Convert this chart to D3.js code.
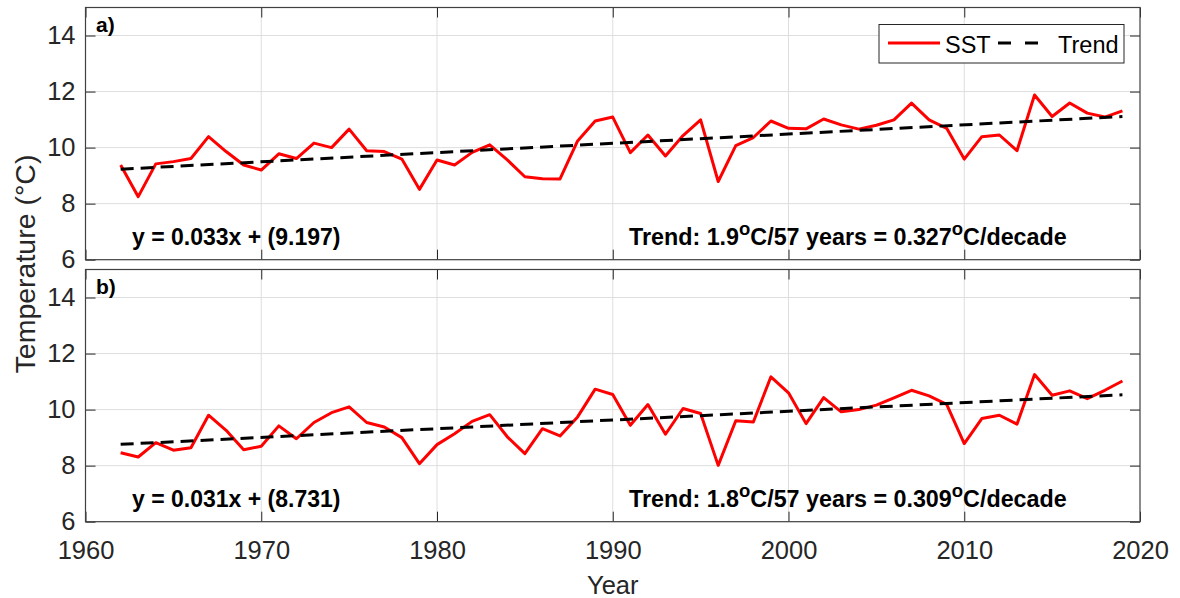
<!DOCTYPE html>
<html>
<head>
<meta charset="utf-8">
<script src="https://cdn.jsdelivr.net/npm/d3@7"></script>
<style>
  body { margin: 0; background: #fff; }
  text { font-family: "Liberation Sans", Arial, sans-serif; fill: #262626; }
</style>
</head>
<body>
<div id="chart"></div>
<script>
var years = d3.range(1962, 2020);

var sstA = [9.38, 8.25, 9.42, 9.50, 9.61, 10.39, 9.86, 9.38, 9.20, 9.78,
            9.61, 10.16, 10.00, 10.66, 9.89, 9.86, 9.59, 8.51, 9.56, 9.38,
            9.83, 10.10, 9.56, 8.96, 8.89, 8.88, 10.24, 10.95, 11.09, 9.82,
            10.45, 9.70, 10.43, 10.99, 8.79, 10.07, 10.36, 10.95, 10.69, 10.67,
            11.02, 10.81, 10.66, 10.80, 10.99, 11.59, 10.99, 10.69, 9.59, 10.39,
            10.45, 9.89, 11.88, 11.11, 11.59, 11.23, 11.09, 11.31];

var sstB = [8.46, 8.31, 8.82, 8.55, 8.64, 9.80, 9.26, 8.57, 8.69, 9.42,
            8.96, 9.54, 9.89, 10.10, 9.54, 9.38, 9.00, 8.07, 8.75, 9.14,
            9.58, 9.82, 9.03, 8.43, 9.32, 9.06, 9.74, 10.73, 10.54, 9.44,
            10.18, 9.12, 10.04, 9.86, 8.01, 9.60, 9.56, 11.17, 10.60, 9.50,
            10.43, 9.92, 10.00, 10.16, 10.42, 10.69, 10.49, 10.19, 8.79, 9.68,
            9.80, 9.48, 11.25, 10.51, 10.67, 10.39, 10.69, 11.02];

// trend end points [year, value]
var trendA = [[1962, 9.23], [2019, 11.11]];
var trendB = [[1962, 8.76], [2019, 10.53]];

var panelLabels = ["a)", "b)"];
var equations = ["y = 0.033x + (9.197)", "y = 0.031x + (8.731)"];
var trendTexts = [["Trend: 1.9", "C/57 years = 0.327", "C/decade"],
                  ["Trend: 1.8", "C/57 years = 0.309", "C/decade"]];

var xTicks = [1960, 1970, 1980, 1990, 2000, 2010, 2020];
var yTicks = [6, 8, 10, 12, 14];

var width = 1180, height = 598;
var left = 85.5, right = 1140;

var svg = d3.select("#chart")
    .append("svg")
    .attr("width", width)
    .attr("height", height);

var x = d3.scaleLinear().domain([1960, 2020]).range([left, right]);

var panels = [
    {top: 7.5, bottom: 259.7, sst: sstA, trend: trendA},
    {top: 269.5, bottom: 521.7, sst: sstB, trend: trendB}
];

var lineGenerator = d3.line();

panels.forEach(function (p, i) {
    var y = d3.scaleLinear().domain([6, 15]).range([p.bottom, p.top]);
    var g = svg.append("g").attr("class", "panel");

    // grid
    g.append("g").selectAll("line")
     .data(xTicks.slice(1, -1))
     .enter()
     .append("line")
     .attr("x1", function (d) {return x(d);})
     .attr("x2", function (d) {return x(d);})
     .attr("y1", p.top).attr("y2", p.bottom)
     .style("stroke", "#dedede").style("stroke-width", 1);

    g.append("g").selectAll("line")
     .data(yTicks.slice(1))
     .enter()
     .append("line")
     .attr("x1", left).attr("x2", right)
     .attr("y1", function (d) {return y(d);})
     .attr("y2", function (d) {return y(d);})
     .style("stroke", "#dedede").style("stroke-width", 1);

    // axes with inward ticks
    var axL = g.append("g").attr("transform", "translate(" + left + ",0)")
        .call(d3.axisLeft(y).tickValues(yTicks).tickSizeInner(-10).tickSizeOuter(0).tickPadding(20));
    var axR = g.append("g").attr("transform", "translate(" + right + ",0)")
        .call(d3.axisRight(y).tickValues(yTicks).tickSizeInner(-10).tickSizeOuter(0).tickFormat(""));
    var axT = g.append("g").attr("transform", "translate(0," + p.top + ")")
        .call(d3.axisTop(x).tickValues(xTicks).tickSizeInner(-10).tickSizeOuter(0).tickFormat(""));
    var axB = g.append("g").attr("transform", "translate(0," + p.bottom + ")")
        .call(d3.axisBottom(x).tickValues(xTicks).tickSizeInner(-10).tickSizeOuter(0)
              .tickFormat(i == 1 ? d3.format("d") : ""));

    [axL, axR, axT, axB].forEach(function (a) {
        a.select(".domain").remove();
        a.selectAll(".tick line").style("stroke", "#262626").style("stroke-width", 1);
        a.selectAll("text").style("font-size", "25.5px").style("fill", "#262626")
         .style("font-family", "'Liberation Sans', Arial, sans-serif");
    });
    axL.selectAll("text").attr("x", -10);
    axB.selectAll("text").attr("y", 19);

    // SST line
    g.append("path")
     .attr("d", lineGenerator(years.map(function (d, j) {return [x(d), y(p.sst[j])];})))
     .style("fill", "none")
     .style("stroke", "#ff0000")
     .style("stroke-width", 3)
     .style("stroke-linejoin", "round");

    // trend
    g.append("path")
     .attr("d", lineGenerator(p.trend.map(function (d) {return [x(d[0]), y(d[1])];})))
     .style("fill", "none")
     .style("stroke", "#000")
     .style("stroke-width", 3)
     .style("stroke-dasharray", "13,7");

    // frame
    g.append("rect")
     .attr("x", left).attr("y", p.top)
     .attr("width", right - left).attr("height", p.bottom - p.top)
     .style("fill", "none")
     .style("stroke", "#404040")
     .style("stroke-width", 1.2);

    // texts
    g.append("text")
     .attr("x", 96).attr("y", p.top + 24)
     .style("font-size", "21px").style("font-weight", "bold").style("fill", "#000")
     .text(panelLabels[i]);

    g.append("text")
     .attr("x", 132).attr("y", p.bottom - 15)
     .style("font-size", "23px").style("font-weight", "bold").style("fill", "#000")
     .text(equations[i]);

    var tt = g.append("text")
     .attr("x", 629).attr("y", p.bottom - 15)
     .style("font-size", "23.3px").style("font-weight", "bold").style("fill", "#000");
    tt.append("tspan").text(trendTexts[i][0]);
    tt.append("tspan").attr("dy", -10).style("font-size", "18.5px").text("o");
    tt.append("tspan").attr("dy", 10).text(trendTexts[i][1]);
    tt.append("tspan").attr("dy", -10).style("font-size", "18.5px").text("o");
    tt.append("tspan").attr("dy", 10).text(trendTexts[i][2]);
});

// legend
var legend = svg.append("g").attr("class", "legend");
legend.append("rect")
      .attr("x", 879).attr("y", 24.5).attr("width", 245).attr("height", 38.5)
      .style("fill", "#fff").style("stroke", "#262626").style("stroke-width", 1);
legend.append("line")
      .attr("x1", 888).attr("x2", 940).attr("y1", 43).attr("y2", 43)
      .style("stroke", "#ff0000").style("stroke-width", 3);
legend.append("text").attr("x", 945).attr("y", 52.5)
      .style("font-size", "23.5px").style("fill", "#000").text("SST");
legend.append("line")
      .attr("x1", 998).attr("x2", 1038).attr("y1", 43).attr("y2", 43)
      .style("stroke", "#000").style("stroke-width", 3).style("stroke-dasharray", "13,14");
legend.append("text").attr("x", 1058).attr("y", 52.5)
      .style("font-size", "23.5px").style("fill", "#000").text("Trend");

// axis titles
svg.append("text")
   .attr("x", (left + right) / 2).attr("y", 594)
   .style("text-anchor", "middle").style("font-size", "25.5px")
   .text("Year");

svg.append("text")
   .attr("transform", "translate(35,264) rotate(-90)")
   .style("text-anchor", "middle").style("font-size", "28.5px")
   .text("Temperature (°C)");
</script>
</body>
</html>
